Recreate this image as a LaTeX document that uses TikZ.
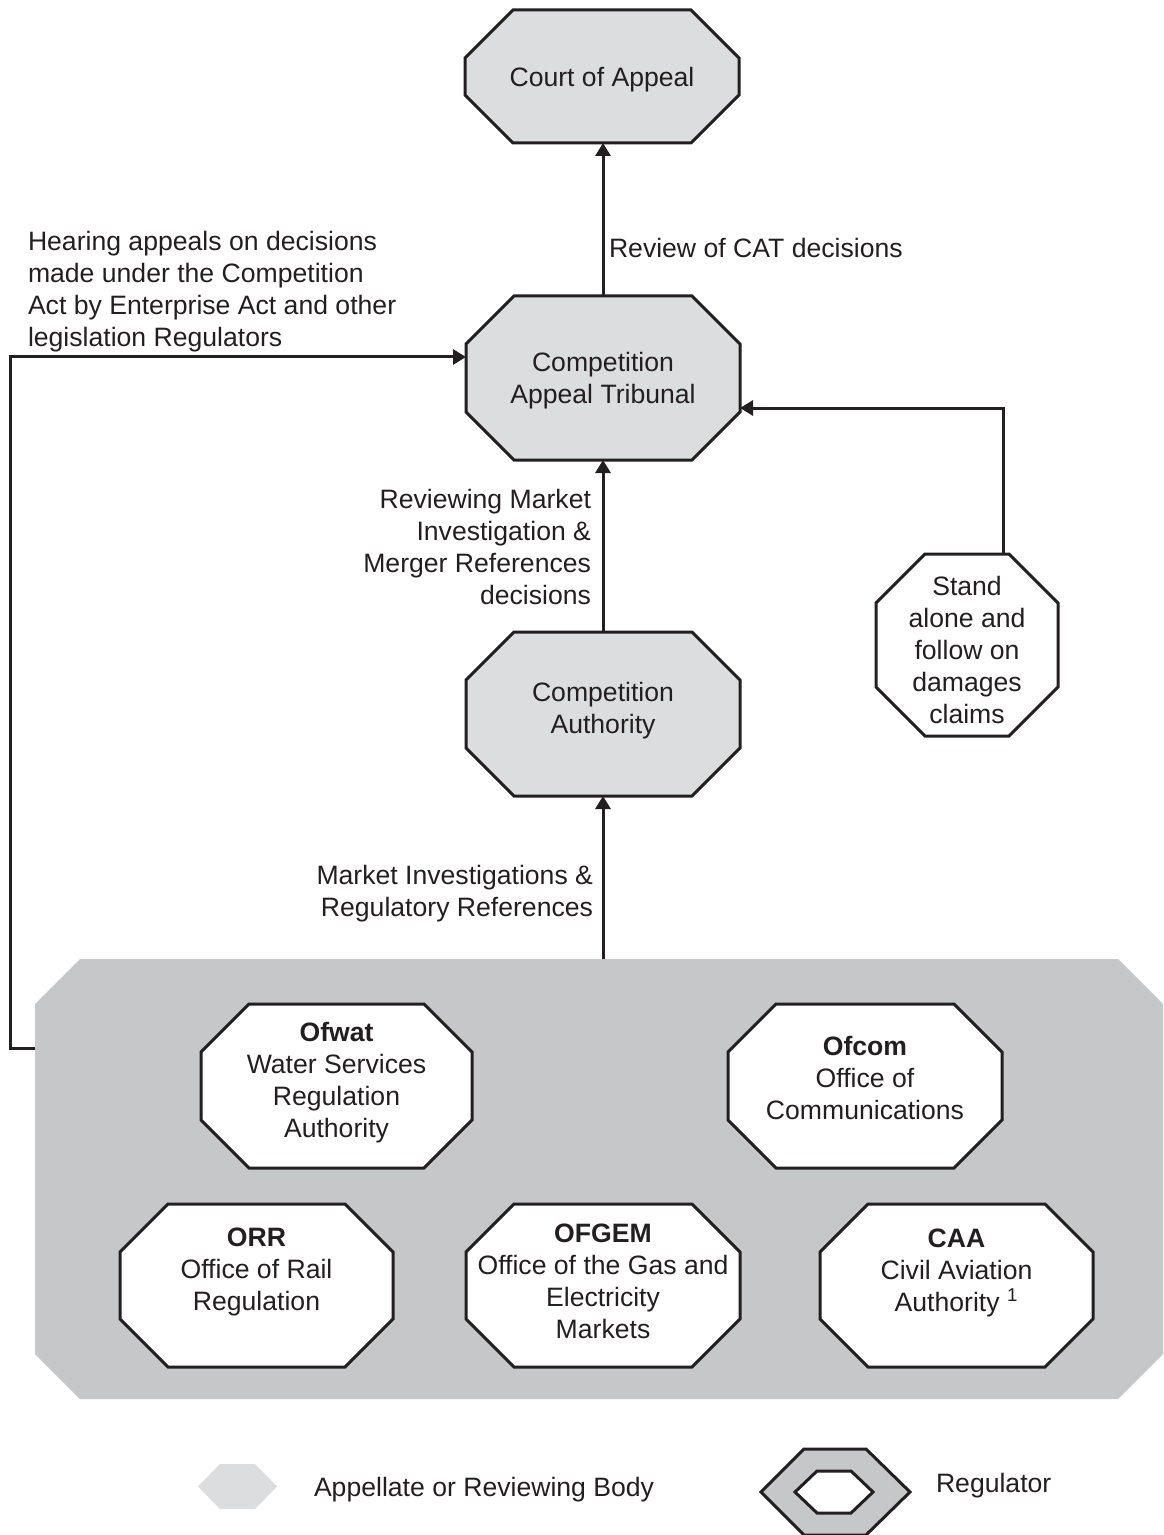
\documentclass[tikz,border=0pt]{standalone}
\usepackage{fontspec}
\setmainfont{Liberation Sans}
\usetikzlibrary{arrows.meta}
\definecolor{ink}{HTML}{231F20}
\definecolor{appl}{HTML}{DCDDDE}
\definecolor{regbg}{HTML}{C6C7C9}
\tikzset{
  frame/.style={draw=none,inner sep=0pt,outer sep=0pt},
  octline/.style={draw=ink,line width=1.5pt,line join=miter},
  txt/.style={inner sep=0pt,outer sep=0pt,align=center,text=ink,yshift=-1.5pt,font=\fontsize{13.3pt}{16pt}\selectfont},
  arr/.style={draw=ink,line width=1.5pt,-{Triangle[length=6.5pt,width=7.5pt]}}
}
\newcommand{\octo}[3]{%
  \path[#3] ([xshift=#2]#1.north west) -- ([xshift=-#2]#1.north east) -- ([yshift=-#2]#1.north east) -- ([yshift=#2]#1.south east) -- ([xshift=-#2]#1.south east) -- ([xshift=#2]#1.south west) -- ([yshift=#2]#1.south west) -- ([yshift=-#2]#1.north west) -- cycle;}
\begin{document}
\begin{tikzpicture}[x=0.5pt,y=-0.5pt]
\useasboundingbox (0,0) rectangle (1163,1535);
% frames
\node[frame,minimum width=137pt,minimum height=66.5pt] (court) at (602,76.5) {};
\node[frame,minimum width=137pt,minimum height=82pt] (cat) at (603,378) {};
\node[frame,minimum width=137pt,minimum height=82pt] (auth) at (603,714) {};
\node[frame,minimum width=91pt,minimum height=91pt] (stand) at (967,645) {};
\node[frame,minimum width=564pt,minimum height=220pt] (regs) at (599,1179) {};
\node[frame,minimum width=135.5pt,minimum height=82pt] (ofwat) at (336.5,1086) {};
\node[frame,minimum width=137pt,minimum height=82pt] (ofcom) at (865,1086) {};
\node[frame,minimum width=136.5pt,minimum height=81.5pt] (orr) at (256.5,1285.5) {};
\node[frame,minimum width=137pt,minimum height=81.5pt] (ofgem) at (603,1285.5) {};
\node[frame,minimum width=136.5pt,minimum height=81.5pt] (caa) at (956.5,1285.5) {};
% shapes
\octo{regs}{22.5pt}{fill=regbg}
\octo{court}{24pt}{octline,fill=appl}
\octo{cat}{24pt}{octline,fill=appl}
\octo{auth}{24pt}{octline,fill=appl}
\octo{stand}{24.5pt}{octline,fill=white}
\octo{ofwat}{24pt}{octline,fill=white}
\octo{ofcom}{24pt}{octline,fill=white}
\octo{orr}{24pt}{octline,fill=white}
\octo{ofgem}{24pt}{octline,fill=white}
\octo{caa}{24pt}{octline,fill=white}
% texts
\node[txt] (court-t) at (602,77) {Court of Appeal};
\node[txt] (cat-t) at (603,378) {Competition\\Appeal Tribunal};
\node[txt] (auth-t) at (603,708) {Competition\\Authority};
\node[txt] (stand-t) at (967,647) {Stand\\alone and\\follow on\\damages\\claims};
\node[txt] (ofwat-t) at (336.5,1080) {\textbf{Ofwat}\\Water Services\\Regulation\\Authority};
\node[txt] (ofcom-t) at (865,1075) {\textbf{Ofcom}\\Office of\\Communications};
\node[txt] (orr-t) at (256.5,1269) {\textbf{ORR}\\Office of Rail\\Regulation};
\node[txt] (ofgem-t) at (603,1278) {\textbf{OFGEM}\\Office of the Gas and\\Electricity\\Markets};
\node[txt] (caa-t) at (956.5,1270) {\textbf{CAA}\\Civil Aviation\\Authority \textsuperscript{1}};
% labels
\node[txt,anchor=west] (lbl-review) at (609,245) {Review of CAT decisions};
\node[txt,anchor=west,align=left] (lbl-hear) at (28,289) {Hearing appeals on decisions\\made under the Competition\\Act by Enterprise Act and other\\legislation Regulators};
\node[txt,anchor=east,align=right] (lbl-merger) at (591,544) {Reviewing Market\\Investigation \&\\Merger References\\decisions};
\node[txt,anchor=east,align=right] (lbl-market) at (593,891) {Market Investigations \&\\Regulatory References};
% connectors
\draw[arr] (cat.north) -- (cat.north |- court.south);
\draw[arr] (auth.north) -- (auth.north |- cat.south);
\draw[arr] (auth.south |- regs.north) -- (auth.south);
\coordinate (fb) at (35,1048);
\draw[arr] (fb) -- ++(-25,0) |- ([yshift=10.5pt]cat.west);
\draw[arr] ([xshift=18pt]stand.north) |- ([yshift=-15pt]cat.east);
% legend
\fill[appl] (198,1486.5) -- (220,1464) -- (255,1464) -- (277,1486.5) -- (255,1509) -- (220,1509) -- cycle;
\node[txt,anchor=west] (leg-app) at (314,1487) {Appellate or Reviewing Body};
\path[octline,fill=regbg] (761,1492) -- (804,1449) -- (866,1449) -- (910,1492) -- (866,1535) -- (804,1535) -- cycle;
\path[octline,fill=white] (795,1492) -- (817,1471) -- (851,1471) -- (873,1492) -- (851,1513) -- (817,1513) -- cycle;
\node[txt,anchor=west] (leg-reg) at (936,1483) {Regulator};
\end{tikzpicture}
\end{document}
